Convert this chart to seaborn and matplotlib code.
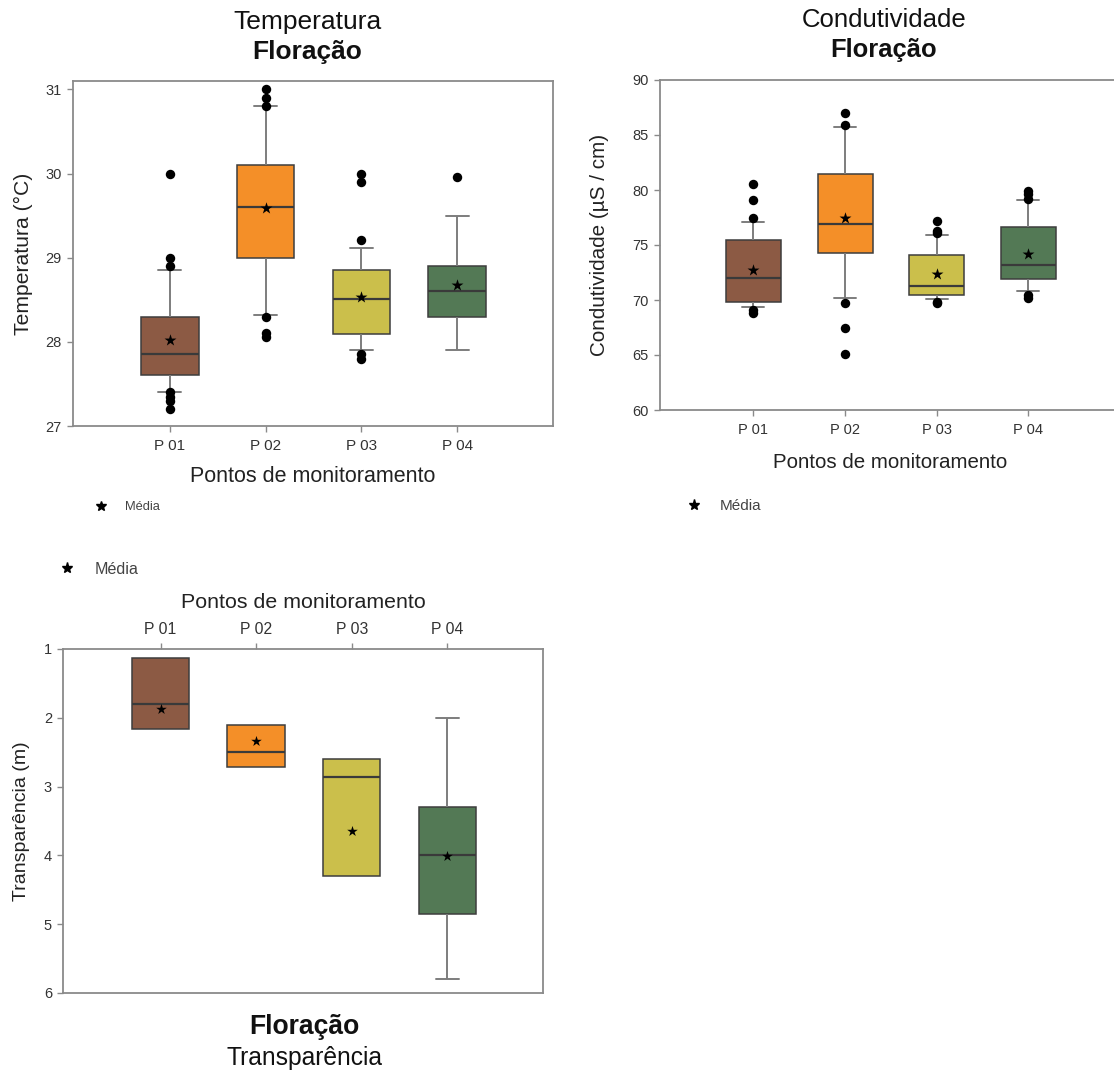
import numpy as np
import pandas as pd
import matplotlib
matplotlib.use("Agg")
import matplotlib.pyplot as plt
from matplotlib.lines import Line2D
import seaborn as sns

sns.set_style("white")
plt.rcParams["font.family"] = ["Liberation Sans", "DejaVu Sans"]

pontos = ["P 01", "P 02", "P 03", "P 04"]
cores = ["#8c5a44", "#f48f28", "#cbbf4b", "#537955"]

# Temperatura (°C) - floração
temp_whisker_low = [27.40, 28.32, 27.90, 27.90]
temp_q1 = [27.61, 29.00, 28.09, 28.30]
temp_median = [27.85, 29.60, 28.51, 28.60]
temp_q3 = [28.29, 30.10, 28.85, 28.90]
temp_whisker_high = [28.85, 30.80, 29.12, 29.50]
temp_mean = [28.02, 29.59, 28.53, 28.68]
temp_outliers = [
    [30.00, 29.00, 28.90, 27.40, 27.35, 27.30, 27.20],
    [31.00, 30.90, 30.80, 28.30, 28.10, 28.06],
    [30.00, 29.90, 29.21, 27.85, 27.80],
    [29.96],
]

# Condutividade (µS / cm) - floração
cond_whisker_low = [69.33, 70.20, 70.13, 70.80]
cond_q1 = [69.80, 74.30, 70.49, 71.95]
cond_median = [72.00, 76.90, 71.28, 73.20]
cond_q3 = [75.50, 81.45, 74.07, 76.60]
cond_whisker_high = [77.10, 85.70, 75.90, 79.10]
cond_mean = [72.72, 77.48, 72.37, 74.19]
cond_outliers = [
    [80.50, 79.10, 77.50, 69.10, 68.85],
    [87.00, 85.90, 69.70, 67.50, 65.10],
    [77.17, 76.30, 76.05, 69.86, 69.70],
    [79.87, 79.60, 79.20, 70.46, 70.20],
]

# Transparência (m) - floração
transp_whisker_low = [1.13, 2.10, 2.60, 2.00]
transp_q1 = [1.13, 2.10, 2.60, 3.30]
transp_median = [1.80, 2.50, 2.86, 4.00]
transp_q3 = [2.16, 2.72, 4.30, 4.85]
transp_whisker_high = [2.16, 2.72, 4.30, 5.80]
transp_mean = [1.87, 2.34, 3.64, 4.01]


def box_frame(low, q1, med, q3, high):
    rows = []
    for p, vals in zip(pontos, zip(low, q1, med, q3, high)):
        rows += [(p, v) for v in vals]
    return pd.DataFrame(rows, columns=["ponto", "valor"])


def point_frame(values):
    return pd.DataFrame({"ponto": pontos, "valor": values})


def outlier_frame(groups):
    rows = [(p, v) for p, vals in zip(pontos, groups) for v in vals]
    return pd.DataFrame(rows, columns=["ponto", "valor"])


SPINE = "#8a8a8a"
WHISK = "#7d7d7d"
BOX_WIDTH = 0.6


def tidy_whiskers(ax, cap_width=0.24):
    """Narrow the whisker caps and hide whiskers of zero length."""
    horiz, vert = [], []
    for ln in ax.lines:
        xs, ys = np.asarray(ln.get_xdata(), float), np.asarray(ln.get_ydata(), float)
        if len(xs) != 2:
            continue
        if xs[0] == xs[1]:
            vert.append((ln, xs, ys))
        elif ys[0] == ys[1] and abs(xs[1] - xs[0]) < BOX_WIDTH * 0.9:
            horiz.append((ln, xs, ys))
    for ln, xs, ys in horiz:
        xc = xs.mean()
        yc = ys[0]
        empty = False
        for wl, wx, wy in vert:
            if np.isclose(wx[0], xc) and np.any(np.isclose(wy, yc)) and wy[0] == wy[1]:
                empty = True
                wl.set_visible(False)
        if empty:
            ln.set_visible(False)
        else:
            ln.set_xdata([xc - cap_width / 2, xc + cap_width / 2])


def draw_panel(ax, box_df, mean_df, out_df=None, star_size=9):
    sns.boxplot(data=box_df, x="ponto", y="valor", hue="ponto",
                order=pontos, hue_order=pontos, palette=cores,
                saturation=1, width=BOX_WIDTH, whis=(0, 100), showfliers=False,
                linecolor="#3d3d3d", linewidth=1.1,
                whiskerprops=dict(color=WHISK, linewidth=1.4),
                capprops=dict(color=WHISK, linewidth=1.4),
                medianprops=dict(color="#3a3a3a", linewidth=1.6),
                legend=False, ax=ax)
    tidy_whiskers(ax)
    if out_df is not None:
        sns.stripplot(data=out_df, x="ponto", y="valor", order=pontos,
                      jitter=False, color="black", size=6.8, linewidth=0,
                      zorder=4, ax=ax)
    sns.stripplot(data=mean_df, x="ponto", y="valor", order=pontos,
                  jitter=False, color="black", marker="*", size=star_size,
                  linewidth=0, zorder=5, ax=ax)
    for s in ax.spines.values():
        s.set_visible(True)
        s.set_color(SPINE)
        s.set_linewidth(1.3)
    ax.tick_params(axis="both", direction="out", length=4, width=1,
                   color=SPINE, labelcolor="#333333", left=True, bottom=True)
    ax.tick_params(axis="x", labelsize=11, pad=5)
    ax.tick_params(axis="y", labelsize=10.5, pad=4)


def media_legend(fig, x_px, y_px, fontsize, marker_size, pad):
    h = Line2D([0], [0], marker="*", color="black", linestyle="None",
               markersize=marker_size)
    fig.legend(handles=[h], labels=["Média"], loc="center left",
               bbox_to_anchor=(x_px / W, 1 - y_px / H), frameon=False,
               fontsize=fontsize, handlelength=1, handletextpad=pad,
               borderpad=0, borderaxespad=0, labelcolor="#444444")


W, H = 1114, 1073
fig = plt.figure(figsize=(W / 100, H / 100), dpi=100)

# Temperatura
ax1 = fig.add_axes([73 / W, 1 - 426 / H, (553 - 73) / W, (426 - 81) / H])
draw_panel(ax1,
           box_frame(temp_whisker_low, temp_q1, temp_median, temp_q3, temp_whisker_high),
           point_frame(temp_mean), outlier_frame(temp_outliers))
ax1.set_xlim(-1.01, 4)
ax1.set_ylim(27, 31.1)
ax1.set_yticks([27, 28, 29, 30, 31])
ax1.set_xlabel("Pontos de monitoramento", fontsize=15.5, color="#222222", labelpad=10)
ax1.set_ylabel("Temperatura (°C)", fontsize=15.2, color="#222222", labelpad=9)
fig.text(307 / W, 1 - 22 / H, "Temperatura", ha="center", va="center", fontsize=19, color="#111111")
fig.text(307 / W, 1 - 52 / H, "Floração", ha="center", va="center", fontsize=19,
         fontweight="bold", color="#111111")
media_legend(fig, 94.5, 507, 9.3, 7, 1.36)

# Condutividade
ax2 = fig.add_axes([660 / W, 1 - 410 / H, (1120 - 660) / W, (410 - 80) / H])
draw_panel(ax2,
           box_frame(cond_whisker_low, cond_q1, cond_median, cond_q3, cond_whisker_high),
           point_frame(cond_mean), outlier_frame(cond_outliers))
ax2.set_xlim(-1.02, 4)
ax2.set_ylim(60, 90)
ax2.set_yticks(np.arange(60, 91, 5))
ax2.tick_params(axis="x", labelsize=10.5)
ax2.set_xlabel("Pontos de monitoramento", fontsize=14.8, color="#222222", labelpad=12)
ax2.set_ylabel("Condutividade (µS / cm)", fontsize=14.9, color="#222222", labelpad=17)
fig.text(884 / W, 1 - 20 / H, "Condutividade", ha="center", va="center", fontsize=18.5, color="#111111")
fig.text(884 / W, 1 - 50 / H, "Floração", ha="center", va="center", fontsize=18.4,
         fontweight="bold", color="#111111")
media_legend(fig, 686, 506, 11, 8, 1.22)

# Transparência
ax3 = fig.add_axes([63 / W, 1 - 993 / H, (543 - 63) / W, (993 - 649) / H])
draw_panel(ax3,
           box_frame(transp_whisker_low, transp_q1, transp_median, transp_q3, transp_whisker_high),
           point_frame(transp_mean), star_size=8)
ax3.set_xlim(-1.02, 4)
ax3.set_ylim(6, 1)
ax3.set_yticks([1, 2, 3, 4, 5, 6])
ax3.xaxis.set_label_position("top")
ax3.xaxis.tick_top()
ax3.tick_params(axis="x", top=True, bottom=False, labeltop=True, labelbottom=False,
                labelsize=11.3)
ax3.set_xlabel("Pontos de monitoramento", fontsize=15.4, color="#222222", labelpad=10)
ax3.set_ylabel("Transparência (m)", fontsize=14, color="#222222", labelpad=10)
fig.text(304 / W, 1 - 1027 / H, "Floração", ha="center", va="center", fontsize=19.1,
         fontweight="bold", color="#111111")
fig.text(304.5 / W, 1 - 1058 / H, "Transparência", ha="center", va="center", fontsize=17.7,
         color="#111111")
media_legend(fig, 59.3, 569, 11.6, 8, 1.2)

fig.savefig("out.png", dpi=100, facecolor="white")
